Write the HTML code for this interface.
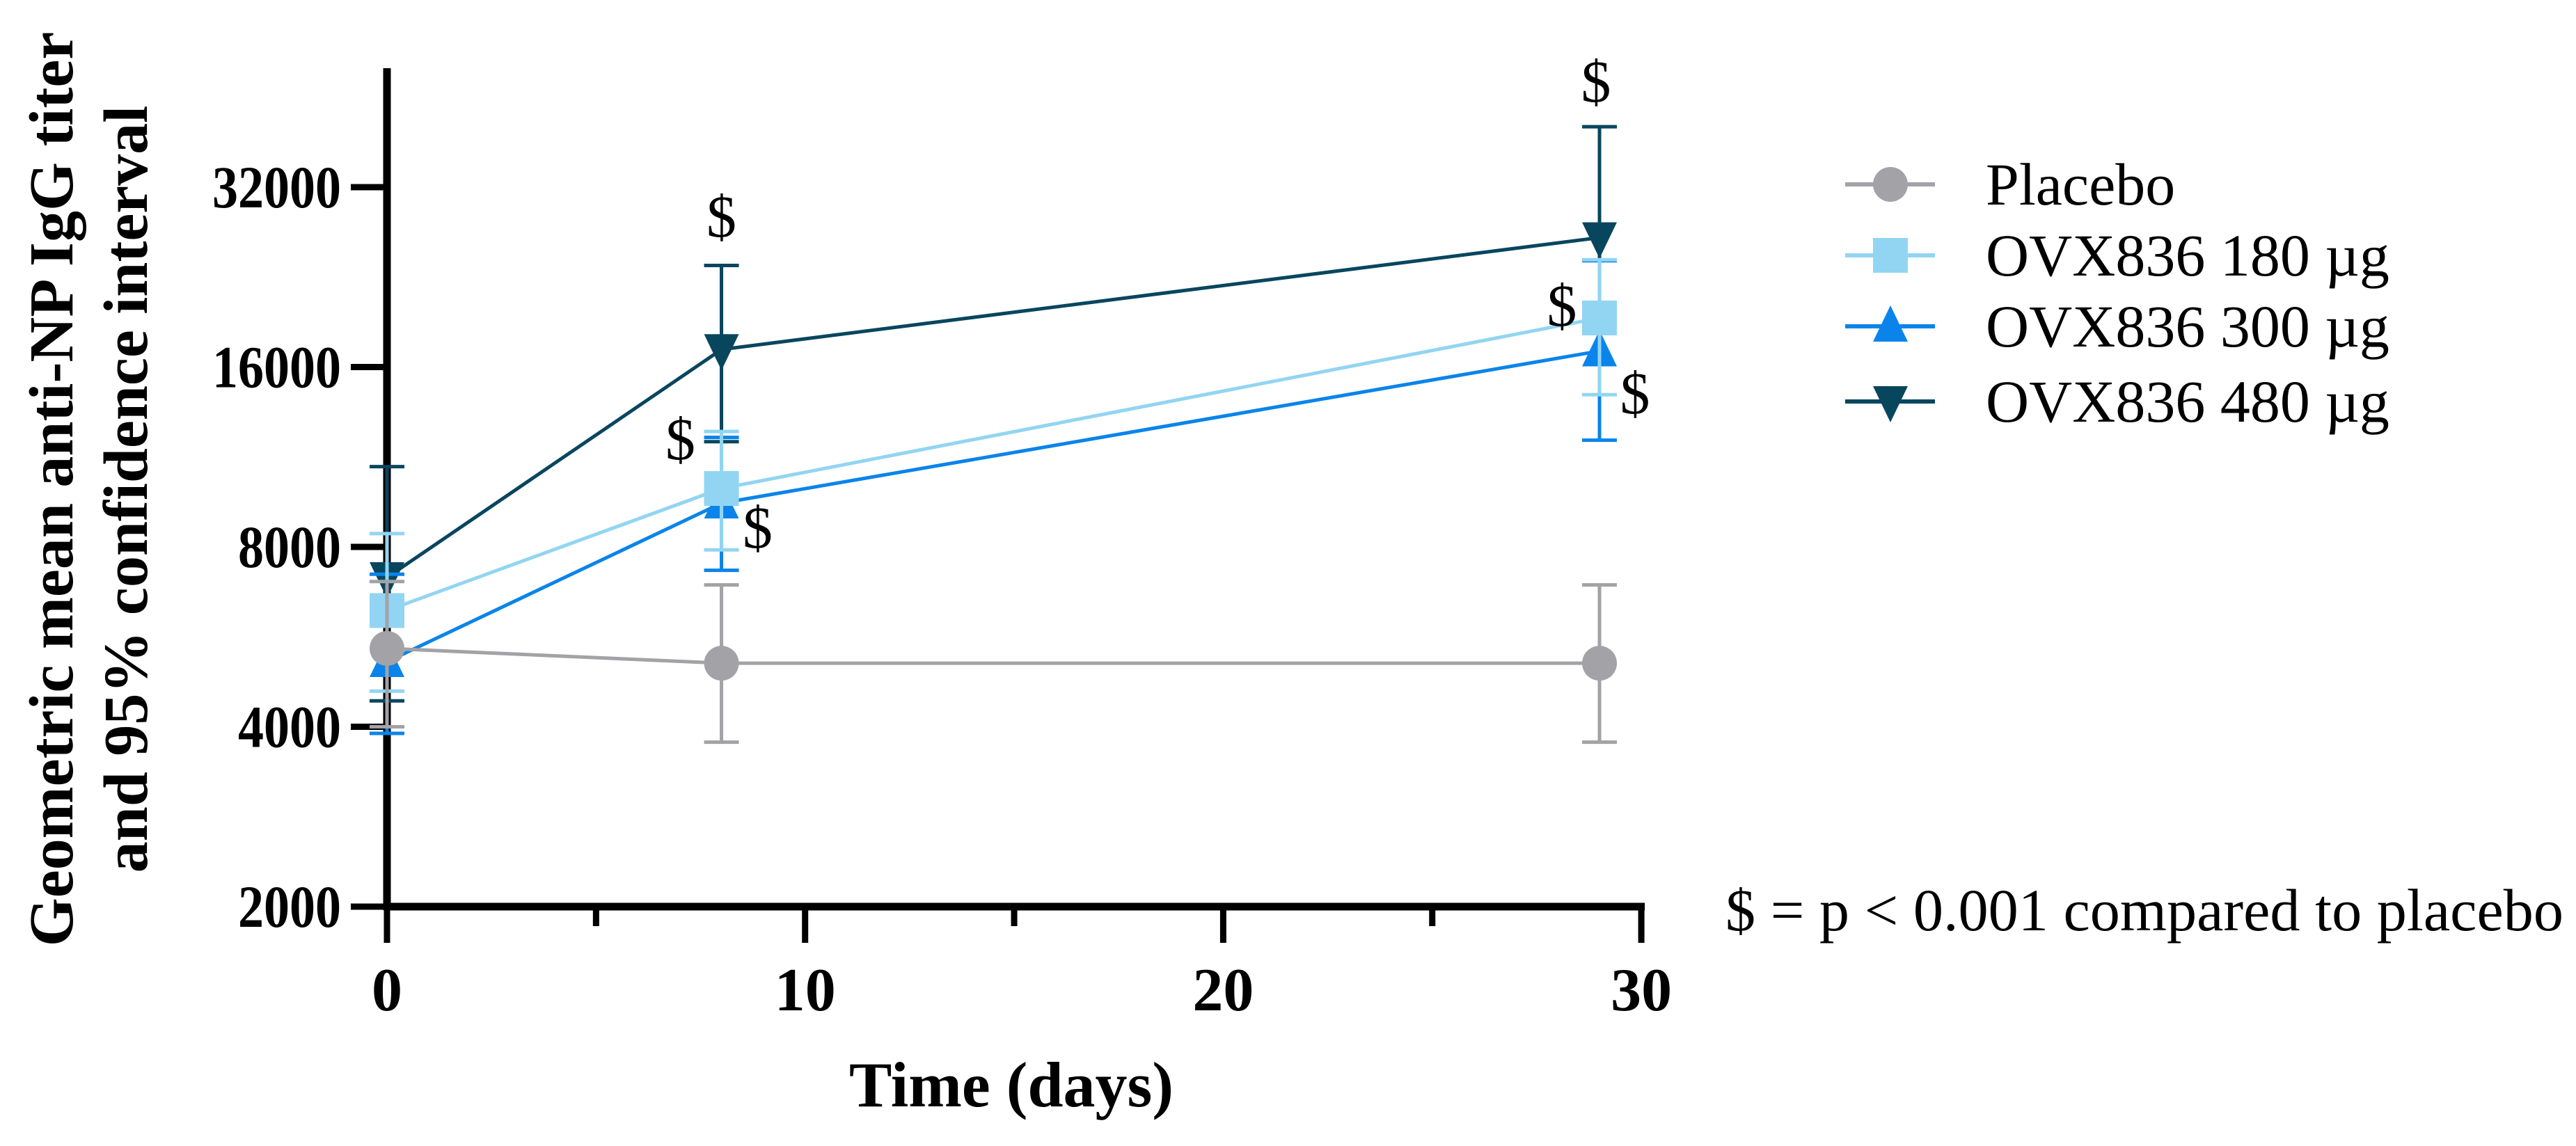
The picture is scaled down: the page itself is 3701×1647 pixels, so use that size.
<!DOCTYPE html>
<html><head><meta charset="utf-8"><style>
html,body{margin:0;padding:0;background:#fff}
svg{display:block}
text{font-family:"Liberation Serif",serif;fill:#000}
</style></head><body>
<svg id="chart" width="3701" height="1647" viewBox="0 0 3701 1647" xmlns="http://www.w3.org/2000/svg">
<g id="axes"></g>
<g id="series"></g>
<g id="legend"></g>
</svg>
<script>
const days = [0, 8, 29];
const seriesNames = ["OVX836 480 µg", "OVX836 300 µg", "OVX836 180 µg", "Placebo"];
const placeboMean = [5410, 5110, 5110];
const placeboLow = [4000, 3770, 3770];
const placeboHigh = [7000, 6910, 6910];
const d180Mean = [6260, 10020, 19330];
const d180Low = [4590, 7910, 14380];
const d180High = [8420, 12480, 24200];
const d300Mean = [5140, 9470, 17020];
const d300Low = [3900, 7310, 12070];
const d300High = [7200, 12200, 24100];
const d480Mean = [7110, 17120, 26350];
const d480Low = [4420, 12000, 19000];
const d480High = [10900, 23670, 40400];
const yTicks = [2000, 4000, 8000, 16000, 32000];
const xTicks = [0, 10, 20, 30];
const xMinor = [5, 15, 25];

const NS = "http://www.w3.org/2000/svg";
const X0 = 556, XPER = 60.07, Y0 = 1303, YPER = 258.5;
function xs(d){ return X0 + XPER*d; }
function ys(v){ return Y0 - YPER*Math.log2(v/2000); }
function mk(tag, attrs, parent){ const e=document.createElementNS(NS,tag); for(const k in attrs) e.setAttribute(k,attrs[k]); parent.appendChild(e); return e; }

const axes = document.getElementById('axes');
let e;
e = mk('line',{x1:X0,y1:98,x2:X0,y2:Y0+5,stroke:'#000','stroke-width':11},axes);
 
e = mk('line',{x1:X0-5,y1:Y0,x2:xs(30)+5,y2:Y0,stroke:'#000','stroke-width':11},axes);
 
yTicks.forEach(v=>{
  const t = mk('line',{x1:X0-52,y1:ys(v),x2:X0,y2:ys(v),stroke:'#000','stroke-width':9},axes);
   
  const n = String(v).length;
  const l = mk('text',{x:490,y:ys(v)+29,'text-anchor':'end','font-size':86,'font-weight':'bold',textLength:n*37,lengthAdjust:'spacingAndGlyphs'},axes);
  l.textContent = v;
   
});
xTicks.forEach(d=>{
  const t = mk('line',{x1:xs(d),y1:Y0,x2:xs(d),y2:Y0+52,stroke:'#000','stroke-width':9},axes);
   
  const l = mk('text',{x:xs(d),y:1452,'text-anchor':'middle','font-size':88,'font-weight':'bold'},axes);
  l.textContent = d;
   
});
xMinor.forEach(d=>{
  const t = mk('line',{x1:xs(d),y1:Y0,x2:xs(d),y2:Y0+28,stroke:'#000','stroke-width':9},axes);
   
});
e = mk('text',{x:1453,y:1590,'text-anchor':'middle','font-size':92,'font-weight':'bold'},axes);
e.textContent='Time (days)';
 
e = mk('text',{x:0,y:0,'text-anchor':'middle','font-size':90,'font-weight':'bold',transform:'translate(104,703) rotate(-90)'},axes);
e.textContent='Geometric mean anti-NP IgG titer';
 
e = mk('text',{x:0,y:0,'text-anchor':'middle','font-size':90,'font-weight':'bold',transform:'translate(211,703) rotate(-90)'},axes);
e.textContent='and 95% confidence interval';
 

function marker(parent, shape, cx, cy, color){
  let m;
  if(shape==='circle') m = mk('circle',{cx:cx,cy:cy,r:25,fill:color},parent);
  else if(shape==='square') m = mk('rect',{x:cx-25,y:cy-25,width:50,height:50,fill:color},parent);
  else if(shape==='up') m = mk('polygon',{points:`${cx},${cy-30} ${cx-25},${cy+22} ${cx+25},${cy+22}`,fill:color},parent);
  else m = mk('polygon',{points:`${cx},${cy+30} ${cx-25},${cy-22} ${cx+25},${cy-22}`,fill:color},parent);
  return m;
}

const seriesDefs = [
  {name:seriesNames[0], key:'ovx836-480', mean:d480Mean, low:d480Low, high:d480High, color:'#08465e', shape:'down'},
  {name:seriesNames[1], key:'ovx836-300', mean:d300Mean, low:d300Low, high:d300High, color:'#0a84ea', shape:'up'},
  {name:seriesNames[2], key:'ovx836-180', mean:d180Mean, low:d180Low, high:d180High, color:'#92d5f2', shape:'square'},
  {name:seriesNames[3], key:'placebo', mean:placeboMean, low:placeboLow, high:placeboHigh, color:'#a2a2a7', shape:'circle'}
];
const layer = document.getElementById('series');
seriesDefs.forEach(s=>{
  const g = mk('g',{},layer);
   
  days.forEach((d,i)=>{
    const x = xs(d);
    const b = mk('line',{x1:x,y1:ys(s.low[i]),x2:x,y2:ys(s.high[i]),stroke:s.color,'stroke-width':5},g);
     
    [s.low[i], s.high[i]].forEach(v=>{
      const c = mk('line',{x1:x-25,y1:ys(v),x2:x+25,y2:ys(v),stroke:s.color,'stroke-width':5},g);
       
    });
  });
  const pl = mk('polyline',{points:days.map((d,i)=>xs(d)+','+ys(s.mean[i])).join(' '),fill:'none',stroke:s.color,'stroke-width':5},g);
   
  days.forEach((d,i)=>{
    const m = marker(g, s.shape, xs(d), ys(s.mean[i]), s.color);
     
  });
});

const sig = [
  [xs(8), 310], [xs(8)-59, 630], [xs(8)+52, 757],
  [xs(29)-5, 116], [xs(29)-54, 438], [xs(29)+51, 564]
];
sig.forEach(p=>{
  const t = mk('text',{x:p[0],y:p[1]+30,'text-anchor':'middle','font-size':86},layer);
  t.textContent='$';
   
});

const legend = document.getElementById('legend');
const legOrder = [3,2,1,0];
const legY = [265, 367, 469, 577];
legOrder.forEach((idx,r)=>{
  const s = seriesDefs[idx];
  const g = mk('g',{},legend);
   
  const y = legY[r];
  mk('line',{x1:2651,y1:y,x2:2780,y2:y,stroke:s.color,'stroke-width':6},g);
  marker(g, s.shape, 2716, y, s.color);
  const t = mk('text',{x:2853,y:y+29,'font-size':86},g);
  t.textContent = s.name;
});
e = mk('text',{x:2479,y:1337,'font-size':86,textLength:1204,lengthAdjust:'spacingAndGlyphs'},legend);
e.textContent='$ = p < 0.001 compared to placebo';
 
</script>
</body></html>
